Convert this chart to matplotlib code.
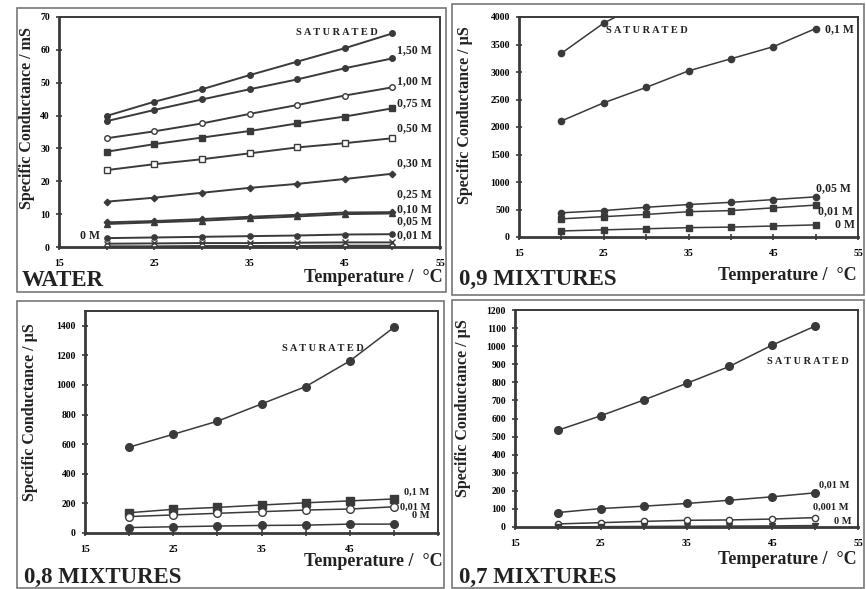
import matplotlib
matplotlib.use("Agg")
import matplotlib.pyplot as plt
from matplotlib.patches import Rectangle
from matplotlib.ticker import MultipleLocator, FixedLocator

plt.rcParams['font.family'] = ['Liberation Serif', 'DejaVu Serif']
plt.rcParams['font.weight'] = 'bold'

W, H = 866, 589

# temperatures (°C)
temps = [20, 25, 30, 35, 40, 45, 50]
xticks = [15, 25, 35, 45, 55]

# WATER panel, mS
water_sat = [39.9, 44.2, 48.0, 52.3, 56.4, 60.5, 65.0]
water_150 = [38.3, 41.7, 44.9, 48.0, 51.0, 54.4, 57.4]
water_100 = [33.1, 35.2, 37.6, 40.5, 43.2, 46.1, 48.6]
water_075 = [29.0, 31.3, 33.3, 35.3, 37.6, 39.7, 42.2]
water_050 = [23.4, 25.2, 26.7, 28.5, 30.3, 31.6, 33.1]
water_030 = [13.8, 15.0, 16.5, 18.0, 19.2, 20.7, 22.3]
water_025 = [7.5, 7.9, 8.5, 9.2, 9.8, 10.5, 10.6]
water_010 = [7.0, 7.5, 8.0, 8.7, 9.3, 10.0, 10.2]
water_005 = [2.7, 2.9, 3.1, 3.3, 3.5, 3.8, 3.9]
water_001 = [1.0, 1.1, 1.2, 1.2, 1.3, 1.4, 1.4]
water_0 = [0.2, 0.2, 0.3, 0.3, 0.3, 0.4, 0.4]

# 0,9 mixtures, µS (saturated runs off the top)
m09_sat = [3340, 3890, 4280]
m09_01 = [2110, 2440, 2720, 3020, 3240, 3460, 3790]
m09_005 = [440, 480, 540, 590, 630, 680, 730]
m09_001 = [330, 370, 410, 460, 480, 530, 580]
m09_0 = [110, 130, 150, 170, 180, 200, 220]

# 0,8 mixtures, µS
m08_sat = [580, 667, 755, 872, 989, 1162, 1389]
m08_01 = [137, 160, 173, 189, 204, 217, 230]
m08_001 = [111, 122, 133, 144, 155, 162, 177]
m08_0 = [37, 42, 47, 51, 53, 60, 60]

# 0,7 mixtures, µS
m07_sat = [535, 615, 702, 794, 888, 1006, 1111]
m07_001 = [80, 102, 115, 130, 148, 167, 189]
m07_0001 = [17, 24, 31, 37, 39, 44, 52]
m07_0 = [0, 2, 3, 4, 5, 6, 8]

ink = '#3a3a3a'
fig = plt.figure(figsize=(W / 100, H / 100), dpi=100)
fig.patch.set_facecolor('white')


def box(x0, y0, x1, y1):
    fig.patches.append(Rectangle((x0 / W, 1 - y1 / H), (x1 - x0) / W, (y1 - y0) / H,
                                 transform=fig.transFigure, fill=False,
                                 edgecolor='#777777', linewidth=1.2))


def make_ax(left, right, top, bottom, ymax, ystep, xlabels=xticks):
    ax = fig.add_axes([left / W, 1 - bottom / H, (right - left) / W, (bottom - top) / H])
    ax.set_xlim(15, 55)
    ax.set_ylim(0, ymax)
    ax.xaxis.set_major_locator(FixedLocator(xticks))
    ax.set_xticklabels([str(t) if t in xlabels else '' for t in xticks])
    ax.xaxis.set_minor_locator(FixedLocator(temps))
    ax.yaxis.set_major_locator(MultipleLocator(ystep))
    ax.tick_params(which='both', direction='inout', length=5, width=1.2, color=ink,
                   labelsize=7, pad=4)
    ax.tick_params(axis='x', pad=6)
    ax.tick_params(which='minor', length=4)
    for lab in ax.get_xticklabels() + ax.get_yticklabels():
        lab.set_fontweight('bold')
    for s in ax.spines.values():
        s.set_color(ink)
        s.set_linewidth(1.4)
    ax.spines['left'].set_linewidth(2)
    ax.spines['bottom'].set_linewidth(2)
    return ax


def series(ax, y, marker, filled=True, ms=4.5, lw=1.1):
    ax.plot(temps[:len(y)], y, color=ink, lw=lw, marker=marker, ms=ms,
            markerfacecolor=ink if filled else 'white', markeredgecolor=ink,
            markeredgewidth=1.0, clip_on=True)


def label(ax, x, y, s, size=8.5, ha='left'):
    ax.text(x, y, s, fontsize=size, fontweight='bold', ha=ha, va='center',
            color='#222222', clip_on=False)


def fig_text(x, y, s, size, ha='left', rot=0):
    fig.text(x / W, 1 - y / H, s, fontsize=size, fontweight='bold', ha=ha,
             va='center', rotation=rot, color='#222222')


# panel frames
box(17, 8, 446, 292)
box(452, 4, 864, 295)
box(17, 301, 444, 588)
box(452, 300, 864, 588)

# ---- WATER ----
ax = make_ax(59, 440, 17, 247, 70, 10)
series(ax, water_sat, 'o', ms=4, lw=1.4)
series(ax, water_150, 'o', ms=4, lw=1.4)
series(ax, water_100, 'o', False, ms=4, lw=1.4)
series(ax, water_075, 's', ms=3.8, lw=1.4)
series(ax, water_050, 's', False, ms=4.2, lw=1.4)
series(ax, water_030, 'D', ms=3.3, lw=1.4)
series(ax, water_025, 'D', ms=3.3, lw=1.4)
series(ax, water_010, '^', ms=4.2, lw=1.4)
series(ax, water_005, 'o', ms=3.8, lw=1.4)
series(ax, water_001, 'x', ms=4, lw=1.4)
series(ax, water_0, 'o', False, ms=3.8, lw=1.4)
label(ax, 48.5, 65.4, 'S A T U R A T E D', size=7.5, ha='right')
label(ax, 50.5, 60.0, '1,50 M')
label(ax, 50.5, 50.6, '1,00 M')
label(ax, 50.5, 43.9, '0,75 M')
label(ax, 50.5, 36.1, '0,50 M')
label(ax, 50.5, 25.5, '0,30 M')
label(ax, 50.5, 16.0, '0,25 M')
label(ax, 50.5, 11.5, '0,10 M')
label(ax, 50.5, 8.0, '0,05 M')
label(ax, 50.5, 3.7, '0,01 M')
label(ax, 19.3, 3.3, '0 M', ha='right')
fig_text(27, 118, 'Specific Conductance / mS', 11.5, ha='center', rot=90)
fig_text(443, 277, 'Temperature /  °C', 13, ha='right')
fig_text(22, 280, 'WATER', 16.5)

# ---- 0,9 MIXTURES ----
ax = make_ax(519, 858, 17, 237, 4000, 500)
series(ax, m09_sat, 'o')
series(ax, m09_01, 'o')
series(ax, m09_005, 'o')
series(ax, m09_001, 's')
series(ax, m09_0, 's')
label(ax, 25.3, 3751, 'S A T U R A T E D', size=7.5)
label(ax, 51.1, 3782, '0,1 M')
label(ax, 50.1, 885, '0,05 M')
label(ax, 50.3, 473, '0,01 M')
label(ax, 54.6, 218, '0 M', ha='right')
fig_text(465, 115, 'Specific Conductance / µS', 11.5, ha='center', rot=90)
fig_text(857, 276, 'Temperature /  °C', 13, ha='right')
fig_text(459, 279, '0,9 MIXTURES', 16.5)

# ---- 0,8 MIXTURES ----
ax = make_ax(85, 438, 311, 533, 1500, 200, xlabels=[15, 25, 35, 45])
series(ax, m08_sat, 'o', ms=5.5)
series(ax, m08_01, 's', ms=5.5)
series(ax, m08_001, 'o', False, ms=5.5)
series(ax, m08_0, 'o', ms=5.5)
label(ax, 37.3, 1247, 'S A T U R A T E D', size=7.5)
label(ax, 51.2, 276, '0,1 M', size=7.5)
label(ax, 50.7, 175, '0,01 M', size=7.5)
label(ax, 52.1, 119, '0 M', size=7.5)
fig_text(30, 412, 'Specific Conductance / µS', 11.5, ha='center', rot=90)
fig_text(443, 561, 'Temperature /  °C', 13, ha='right')
fig_text(24, 577, '0,8 MIXTURES', 16.5)

# ---- 0,7 MIXTURES ----
ax = make_ax(515, 858, 310, 527, 1200, 100)
series(ax, m07_sat, 'o', ms=5.5)
series(ax, m07_001, 'o', ms=5.5)
series(ax, m07_0001, 'o', False, ms=4.5)
series(ax, m07_0, 'v', ms=4.5)
label(ax, 44.4, 914, 'S A T U R A T E D', size=7.5)
label(ax, 50.5, 231, '0,01 M', size=7.5)
label(ax, 49.8, 111, '0,001 M', size=7.5)
label(ax, 54.2, 28, '0 M', size=7.5, ha='right')
fig_text(463, 408, 'Specific Conductance / µS', 11.5, ha='center', rot=90)
fig_text(857, 559, 'Temperature /  °C', 13, ha='right')
fig_text(459, 577, '0,7 MIXTURES', 16.5)

fig.savefig('out.png', dpi=100, facecolor='white')
